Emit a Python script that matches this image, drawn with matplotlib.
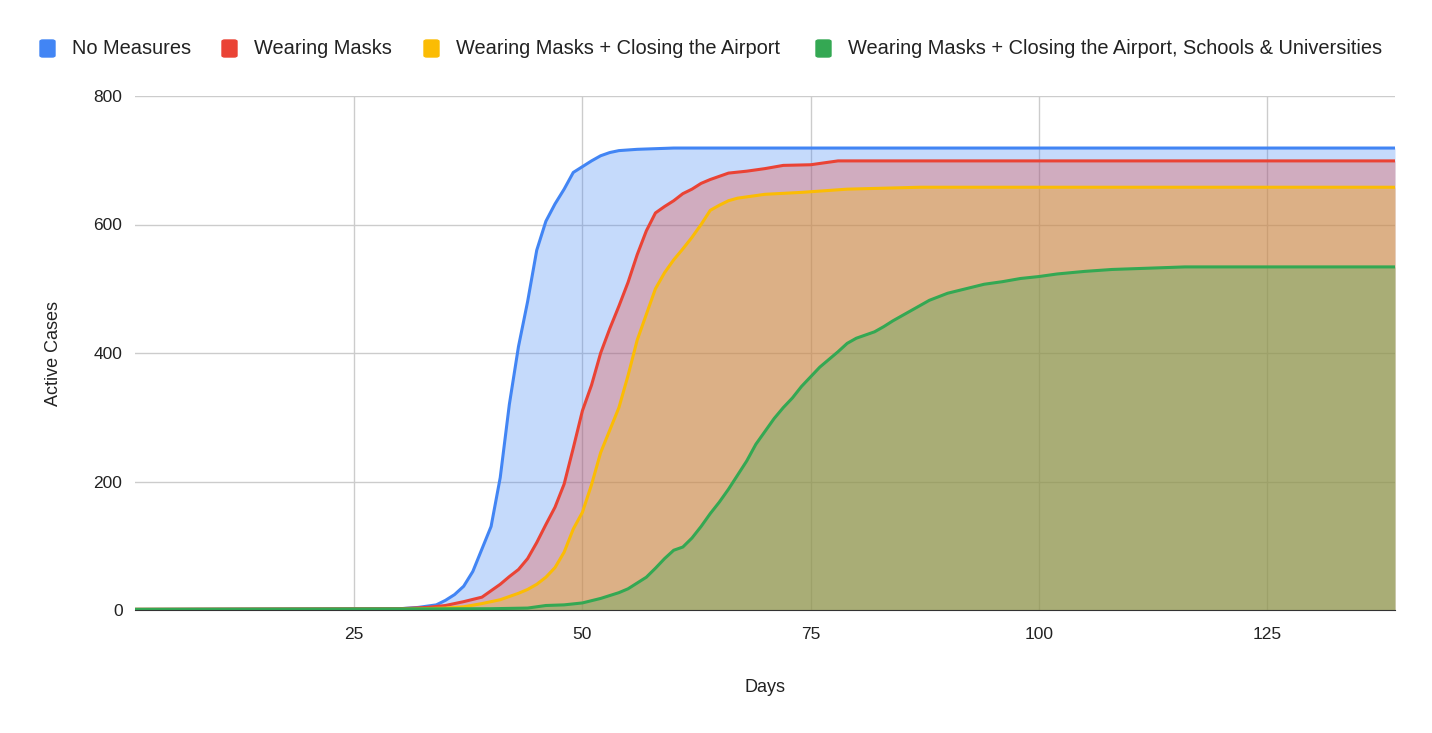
import matplotlib
matplotlib.use('Agg')
import matplotlib.pyplot as plt
from matplotlib.patches import FancyBboxPatch

plt.rcParams['font.family'] = ['Liberation Sans', 'DejaVu Sans']

# values (day, active cases)
no_measures_days = [1, 30, 32, 34, 35, 36, 37, 38, 39, 40, 41, 42, 43, 44, 45, 46, 47, 48, 49, 50,
                    51, 52, 53, 54, 56, 58, 60, 139]
no_measures_vals = [1, 2, 4, 8, 15, 24, 37, 60, 95, 130, 206, 320, 410, 480, 560, 605, 632, 655, 681, 690,
                    699, 707, 712, 715, 717, 718, 719, 719]

masks_days = [1, 30, 33, 35, 37, 39, 40, 41, 42, 43, 44, 45, 46, 47, 48, 49, 50, 51, 52, 53, 54, 55,
              56, 57, 58, 59, 60, 61, 62, 63, 64, 65, 66, 68, 70, 72, 75, 78, 139]
masks_vals = [1, 2, 4, 7, 13, 20, 30, 40, 52, 63, 80, 105, 133, 160, 196, 252, 310, 350, 400, 438, 473, 510,
              553, 590, 618, 628, 637, 648, 655, 664, 670, 675, 680, 683, 687, 692, 693, 699, 699]

airport_days = [1, 30, 35, 37, 39, 41, 43, 44, 45, 46, 47, 48, 49, 50, 51, 52, 53, 54, 55, 56, 57, 58,
                59, 60, 61, 62, 63, 64, 65, 66, 67, 68, 70, 74, 79, 87, 139]
airport_vals = [1, 1, 3, 5, 10, 16, 26, 32, 40, 51, 66, 90, 126, 152, 195, 245, 280, 315, 365, 420, 460, 500,
                525, 545, 562, 580, 600, 622, 630, 637, 641, 643, 647, 650, 655, 658, 658]

schools_days = [1, 40, 44, 46, 48, 50, 52, 54, 55, 56, 57, 58, 59, 60, 61, 62, 63, 64, 65, 66, 67, 68,
                69, 70, 71, 72, 73, 74, 75, 76, 77, 78, 79, 80, 82, 83, 84, 86, 88, 90, 92, 94, 96, 98,
                100, 102, 105, 108, 112, 116, 139]
schools_vals = [1, 2, 3, 7, 8, 11, 18, 27, 33, 42, 51, 65, 80, 93, 98, 112, 130, 150, 168, 188, 210, 232,
                258, 278, 298, 315, 330, 348, 363, 378, 390, 402, 415, 423, 433, 441, 450, 466, 482, 493,
                500, 507, 511, 516, 519, 523, 527, 530, 532, 534, 534]

labels = ['No Measures', 'Wearing Masks', 'Wearing Masks + Closing the Airport',
          'Wearing Masks + Closing the Airport, Schools & Universities']
colors = ['#4285F4', '#EA4335', '#FBBC04', '#34A853']
series = [(no_measures_days, no_measures_vals), (masks_days, masks_vals),
          (airport_days, airport_vals), (schools_days, schools_vals)]

fig = plt.figure(figsize=(14.32, 7.33), dpi=100)
ax = fig.add_axes([135 / 1432, 1 - 610 / 733, 1260 / 1432, 514 / 733])

for (d, v), c in zip(series, colors):
    ax.fill_between(d, 0, v, color=c, alpha=0.3, linewidth=0)
    ax.plot(d, v, color=c, linewidth=2.2, solid_capstyle='butt')

ax.set_xlim(1, 139)
ax.set_ylim(0, 800)
ax.set_xticks([25, 50, 75, 100, 125])
ax.set_yticks([0, 200, 400, 600, 800])
ax.grid(True, color='#cccccc', linewidth=1)
ax.set_axisbelow(True)
for s in ['top', 'right', 'left']:
    ax.spines[s].set_visible(False)
ax.spines['bottom'].set_color('#333333')
ax.spines['bottom'].set_zorder(5)
ax.tick_params(length=0, labelsize=12.5, colors='#222222', pad=9)
ax.tick_params(axis='x', pad=12)
ax.set_xlabel('Days', fontsize=13, color='#222222', labelpad=27)
ax.set_ylabel('Active Cases', fontsize=13, color='#222222', labelpad=23)

# legend across the top
legend_x = [40, 222, 424, 816]
for x, lab, c in zip(legend_x, labels, colors):
    fig.patches.append(FancyBboxPatch((x / 1432, 1 - 57 / 733), 15 / 1432, 17 / 733,
                                      boxstyle='round,pad=0,rounding_size=0.002',
                                      transform=fig.transFigure, color=c))
    fig.text((x + 32) / 1432, 1 - 48 / 733, lab, fontsize=14.4, color='#222222', va='center')

fig.savefig('out.png', dpi=100)
